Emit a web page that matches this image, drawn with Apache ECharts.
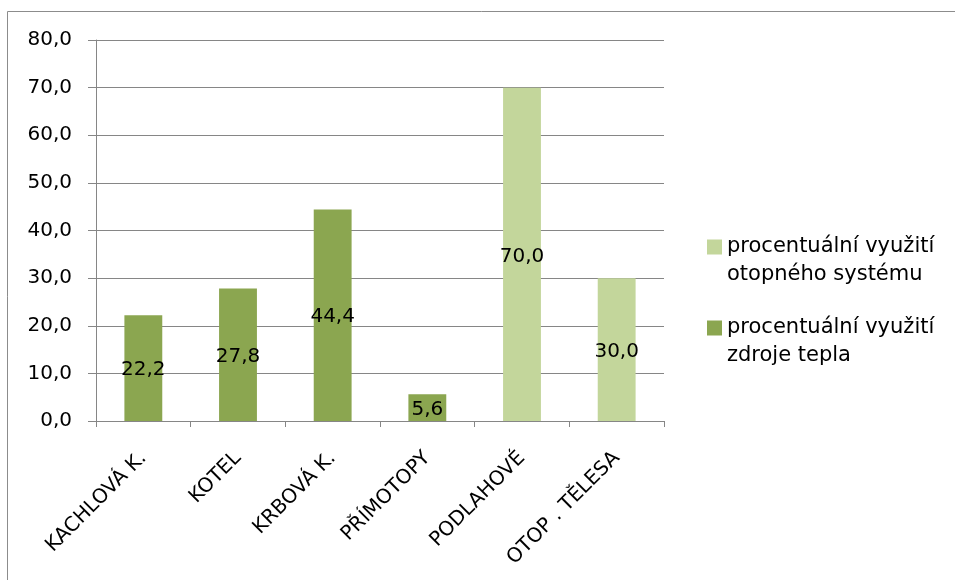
<!DOCTYPE html>
<html>
<head>
<meta charset="utf-8">
<script src="https://cdn.jsdelivr.net/npm/echarts@6/dist/echarts.min.js"></script>
<style>html,body{margin:0;padding:0;background:#fff}#c{width:955px;height:580px}</style>
</head>
<body>
<div id="c"></div>
<script>
var categories = ['KACHLOVÁ K.', 'KOTEL', 'KRBOVÁ K.', 'PŘÍMOTOPY', 'PODLAHOVÉ', 'OTOP . TĚLESA'];
var zdrojeTepla = [22.2, 27.8, 44.4, 5.6, null, null];
var otopnySystem = [null, null, null, null, 70.0, 30.0];
var nameSystem = 'procentuální využití otopného systému';
var nameZdroj = 'procentuální využití zdroje tepla';

var FONT = 'DejaVu Sans';
function fmt(v) { return Number(v).toFixed(1).replace('.', ','); }

// square swatch sitting at the top of a taller icon box (aligns with first text line)
var ICON = 'path://M0,0L15,0L15,15L0,15Z M0,43L0.01,43L0,43Z';

var chart = echarts.init(document.getElementById('c'));
chart.setOption({
  animation: false,
  textStyle: { fontFamily: FONT },
  graphic: [{
    type: 'polyline', silent: true,
    shape: { points: [[7.5, 600], [7.5, 11.5], [1000, 11.5]] },
    style: { fill: 'none', stroke: '#8c8c8c', lineWidth: 1 }
  }],
  grid: { left: 96, right: 291, top: 40, bottom: 159, containLabel: false },
  legend: {
    orient: 'vertical', left: 707, top: 233, padding: 0, itemWidth: 15, itemHeight: 43, itemGap: 25,
    icon: ICON,
    data: [nameSystem, nameZdroj],
    textStyle: { fontSize: 21, color: '#000', fontFamily: FONT, lineHeight: 28 },
    formatter: function (n) { return n.replace(' využití ', ' využití\n'); }
  },
  xAxis: {
    type: 'category', data: categories,
    axisLine: { lineStyle: { color: '#868686' } },
    axisTick: { show: true, alignWithLabel: false, length: 6, lineStyle: { color: '#868686' } },
    axisLabel: { rotate: 45, fontSize: 20, color: '#000', fontFamily: FONT, margin: 34, interval: 0 }
  },
  yAxis: {
    type: 'value', min: 0, max: 80, interval: 10,
    axisLine: { show: true, lineStyle: { color: '#868686' } },
    axisTick: { show: true, length: 8, lineStyle: { color: '#868686' } },
    splitLine: { lineStyle: { color: '#868686' } },
    axisLabel: { fontSize: 20, color: '#000', fontFamily: FONT, margin: 24, formatter: fmt }
  },
  series: [{
    name: nameZdroj, type: 'bar', stack: 's', data: zdrojeTepla, barWidth: '40%',
    itemStyle: { color: '#8BA650' },
    label: { show: true, position: 'inside', offset: [0, 2], color: '#000', fontSize: 20, fontFamily: FONT,
      formatter: function (p) { return fmt(p.value); } }
  }, {
    name: nameSystem, type: 'bar', stack: 's', data: otopnySystem, barWidth: '40%',
    itemStyle: { color: '#C3D69B' },
    label: { show: true, position: 'inside', offset: [0, 2], color: '#000', fontSize: 20, fontFamily: FONT,
      formatter: function (p) { return fmt(p.value); } }
  }]
});
</script>
</body>
</html>
